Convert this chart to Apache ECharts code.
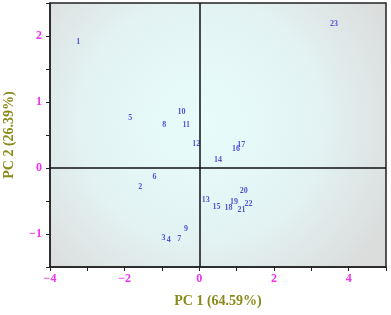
<!DOCTYPE html>
<html><head><meta charset="utf-8">
<script src="https://cdn.jsdelivr.net/npm/echarts@6/dist/echarts.min.js"></script>
<style>html,body{margin:0;padding:0;background:#fff}#c{width:391px;height:315px}</style>
</head><body><div id="c"></div>
<script>
const labels = ['1','2','3','4','5','6','7','8','9','10','11','12','13','14','15','16','17','18','19','20','21','22','23'];
const pc1 = [-3.24,-1.58,-0.96,-0.82,-1.85,-1.20,-0.54,-0.94,-0.36,-0.48,-0.35,-0.08,0.17,0.50,0.46,0.98,1.12,0.78,0.93,1.19,1.13,1.32,3.61];
const pc2 = [1.91,-0.29,-1.06,-1.09,0.76,-0.13,-1.08,0.65,-0.92,0.85,0.65,0.37,-0.49,0.12,-0.59,0.29,0.35,-0.60,-0.52,-0.34,-0.64,-0.54,2.18];
const xTicks = [-4,-2,0,2,4];
const yTicks = [-1,0,1,2];
const xTitle = 'PC 1 (64.59%)';
const yTitle = 'PC 2 (26.39%)';

const data = labels.map((n,i)=>({name:n, value:[pc1[i], pc2[i]]}));
const chart = echarts.init(document.getElementById('c'));
const serif = '"Liberation Serif","DejaVu Serif",serif';
const fmt = (ticks)=>v=>{const r=Math.round(v*100)/100;return ticks.indexOf(r)>=0?(r<0?'\u2212'+Math.abs(r):String(r)):'';};
chart.setOption({
  animation:false,
  grid:{left:50,right:5,top:3,bottom:48,outerBoundsMode:'none',containLabel:false,show:true,borderColor:'#222',borderWidth:1.5,
    backgroundColor:{type:'radial',x:0.45,y:0.45,r:0.8,colorStops:[{offset:0,color:'#e8fcfc'},{offset:0.55,color:'#e3f3f3'},{offset:1,color:'#dbdcdc'}]}},
  xAxis:{type:'value',min:-4,max:5,interval:1,
    name:xTitle,nameLocation:'middle',nameGap:27,
    nameTextStyle:{color:'#8a8a1a',fontFamily:serif,fontWeight:'bold',fontSize:14},
    axisLine:{show:true,onZero:false,lineStyle:{color:'#222',width:1.5}},
    axisTick:{show:true,inside:false,length:4,lineStyle:{color:'#222'}},
    splitLine:{show:false},
    axisLabel:{color:'#ee33ee',fontFamily:serif,fontWeight:'bold',fontSize:12,margin:6,formatter:fmt(xTicks)}},
  yAxis:{type:'value',min:-1.5,max:2.5,interval:0.5,
    name:yTitle,nameLocation:'middle',nameGap:34,
    nameTextStyle:{color:'#8a8a1a',fontFamily:serif,fontWeight:'bold',fontSize:14},
    axisLine:{show:true,onZero:false,lineStyle:{color:'#222',width:1.5}},
    axisTick:{show:true,inside:false,length:4,lineStyle:{color:'#222'}},
    splitLine:{show:false},
    axisLabel:{color:'#ee33ee',fontFamily:serif,fontWeight:'bold',fontSize:12,margin:8,formatter:fmt(yTicks)}},
  series:[{type:'scatter',data:data,symbolSize:1,itemStyle:{color:'rgba(0,0,0,0)'},
    label:{show:true,position:'inside',formatter:p=>p.name,color:'#2a2ad0',fontFamily:serif,fontWeight:'bold',fontSize:8},
    markLine:{silent:true,symbol:'none',label:{show:false},lineStyle:{color:'#111',width:1.5,type:'solid'},
      data:[{xAxis:0},{yAxis:0}]}}]
});
</script></body></html>
